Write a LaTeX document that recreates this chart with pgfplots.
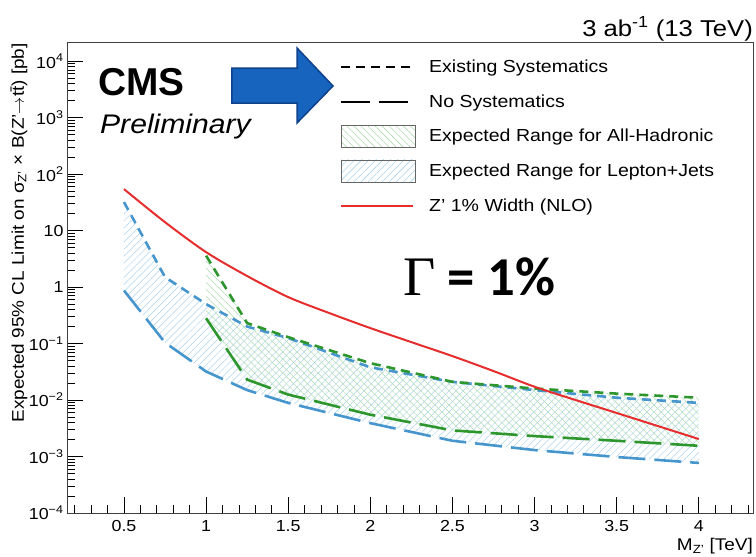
\documentclass[border=0pt]{standalone}
\usepackage{fontspec}
\setmainfont{Liberation Sans}[FakeStretch=1.12]
\newfontfamily\cmsfont{Liberation Sans}
\newfontfamily\gfont{Liberation Serif}
\newfontfamily\cfont{Carlito}
\usepackage{pgfplots}
\pgfplotsset{compat=1.18}
\usepgfplotslibrary{fillbetween}
\usetikzlibrary{patterns.meta}
\definecolor{cblue}{RGB}{70,150,205}
\definecolor{cgreen}{RGB}{45,150,45}
\definecolor{cred}{RGB}{230,45,45}
\definecolor{hblue}{RGB}{170,212,236}
\definecolor{hgreen}{RGB}{175,220,175}
\definecolor{afill}{RGB}{22,100,190}
\definecolor{adraw}{RGB}{15,65,140}
\begin{document}
\begin{tikzpicture}
\begin{axis}[
  scale only axis, width=686bp, height=470bp,
  ymode=log, xmin=0.153, xmax=4.33, ymin=1e-4, ymax=2.1e4,
  axis line style={black!75, line width=1bp},
  tick align=inside, xtick pos=bottom, ytick pos=left,
  xtick={0.5,1,1.5,2,2.5,3,3.5,4},
  xticklabels={0.5,1,1.5,2,2.5,3,3.5,4},
  minor xtick={0.2,0.3,...,4.3},
  ytick={1e-4,1e-3,1e-2,1e-1,1,10,100,1000,10000},
  yticklabels={10\textsuperscript{−4},10\textsuperscript{−3},10\textsuperscript{−2},10\textsuperscript{−1},1,10,10\textsuperscript{2},10\textsuperscript{3},10\textsuperscript{4}},
  major tick length=16bp, minor tick length=8bp,
  tick style={black, line width=0.8bp},
  ticklabel style={font=\fontsize{16}{16}\selectfont},
  xticklabel style={yshift=-4bp},
  clip=false,
  legend cell align=left,
  legend style={at={(axis description cs:0.3994,0.966)}, anchor=north west,
    draw=none, fill=none, inner sep=0pt, row sep=18.6bp, column sep=14bp,
    font=\fontsize{17.5}{18}\selectfont, cells={anchor=west}, nodes={inner sep=0pt}},
]
\addlegendimage{legend image code/.code={\path[draw=none, fill=none, use as bounding box] (0bp,-8bp) rectangle (74bp,8bp); \draw[black, line width=2bp, dash pattern=on 9bp off 6bp] (0bp,0bp) -- (72bp,0bp);}}
\addlegendentry{Existing Systematics}
\addlegendimage{legend image code/.code={\path[draw=none, fill=none, use as bounding box] (0bp,-8bp) rectangle (74bp,8bp); \draw[black, line width=2bp, dash pattern=on 29bp off 9bp] (0bp,0bp) -- (72bp,0bp);}}
\addlegendentry{No Systematics}
\addlegendimage{legend image code/.code={\path[draw=none, fill=none, use as bounding box] (0bp,-8bp) rectangle (74bp,8bp); \draw[draw=black!60, line width=0.8bp, pattern={Lines[angle=-45,distance=5bp,line width=0.6bp]}, pattern color=hgreen] (0bp,-11bp) rectangle (74bp,11bp);}}
\addlegendentry{Expected Range for All-Hadronic}
\addlegendimage{legend image code/.code={\path[draw=none, fill=none, use as bounding box] (0bp,-8bp) rectangle (74bp,8bp); \draw[draw=black!60, line width=0.8bp, pattern={Lines[angle=45,distance=5bp,line width=0.6bp]}, pattern color=hblue] (0bp,-11bp) rectangle (74bp,11bp);}}
\addlegendentry{Expected Range for Lepton+Jets}
\addlegendimage{legend image code/.code={\path[draw=none, fill=none, use as bounding box] (0bp,-8bp) rectangle (74bp,8bp); \draw[cred, line width=2bp] (0bp,0bp) -- (72bp,0bp);}}
\addlegendentry{Z' 1\% Width (NLO)}

% Lepton+Jets, existing systematics
\addplot[forget plot, name path=bs, cblue, line width=2.6bp, dash pattern=on 9bp off 6bp] coordinates {
(0.5,32) (0.75,1.5) (1,0.5) (1.25,0.2) (1.5,0.125) (2,0.038) (2.5,0.021) (3,0.015) (3.5,0.011) (4,0.0089)};
% Lepton+Jets, no systematics
\addplot[forget plot, name path=bl, cblue, line width=2.6bp, dash pattern=on 27bp off 9bp] coordinates {
(0.5,0.87) (0.75,0.104) (1,0.032) (1.25,0.015) (1.5,0.0089) (2,0.0039) (2.5,0.0019) (3,0.0013) (3.5,0.00098) (4,0.00077)};
% All-hadronic, existing systematics
\addplot[forget plot, name path=gs, cgreen, line width=2.6bp, dash pattern=on 9bp off 6bp] coordinates {
(1,3.6) (1.25,0.23) (1.5,0.13) (2,0.045) (2.5,0.021) (3,0.016) (3.5,0.013) (4,0.011)};
% All-hadronic, no systematics
\addplot[forget plot, name path=gl, cgreen, line width=2.6bp, dash pattern=on 27bp off 9bp] coordinates {
(1,0.28) (1.25,0.023) (1.5,0.0125) (2,0.0055) (2.5,0.0029) (3,0.0023) (3.5,0.0019) (4,0.00155)};

\addplot[forget plot, draw=none, pattern={Lines[angle=45,distance=5bp,line width=0.5bp]}, pattern color=hblue] fill between[of=bs and bl];
\addplot[forget plot, draw=none, pattern={Lines[angle=-45,distance=5bp,line width=0.5bp]}, pattern color=hgreen] fill between[of=gs and gl];

% Z' 1% width (NLO)
\addplot[forget plot, cred, line width=2bp, smooth, tension=0.5] coordinates {
(0.5,54.3) (0.75,14.1) (1,4.16) (1.25,1.57) (1.5,0.665) (1.75,0.347) (2,0.188) (2.25,0.106) (2.5,0.060) (2.75,0.0326) (3,0.0172) (3.25,0.0100) (3.5,0.0059) (3.75,0.00347) (4,0.00204)};

\node[anchor=base west, inner sep=0pt, font=\cmsfont\bfseries\fontsize{39}{39}\selectfont] at (axis description cs:0.0452,0.889) {CMS};
\node[anchor=base west, inner sep=0pt, font=\itshape\fontsize{27}{27}\selectfont] at (axis description cs:0.048,0.8085) {Preliminary};
\node[anchor=base east, inner sep=0pt, font=\fontsize{23}{23}\selectfont] at (axis description cs:1,1.0128) {3 ab\textsuperscript{-1} (13 TeV)};
\node[anchor=base east, inner sep=0pt, font=\fontsize{17}{17}\selectfont] at (axis description cs:1,-0.0806) {M\textsubscript{Z'} [TeV]};
\node[rotate=90, anchor=east, inner sep=0pt, font=\fontsize{17}{17}\selectfont] at (axis description cs:-0.070,1.0) {Expected 95\% CL Limit on σ\textsubscript{Z'} × B(Z'$\rightarrow$t\={t}) [pb]};
\node[anchor=base west, inner sep=0pt] at (axis description cs:0.490,0.4638) {\gfont\fontsize{56}{56}\selectfont Γ\cfont\bfseries\fontsize{55}{55}\selectfont\ = 1\%};
\draw[fill=afill, draw=adraw, line width=1.5bp] (axis description cs:0.2405,0.9468) -- (axis description cs:0.3353,0.9468) -- (axis description cs:0.3353,0.9894) -- (axis description cs:0.3878,0.9085) -- (axis description cs:0.3353,0.8298) -- (axis description cs:0.3353,0.8723) -- (axis description cs:0.2405,0.8723) -- cycle;
\coordinate (SW) at (rel axis cs:0,0);
\coordinate (NE) at (rel axis cs:1,1);
\end{axis}
\pgfresetboundingbox
\path[use as bounding box] ([xshift=-67bp,yshift=-44bp]SW) rectangle ([xshift=3bp,yshift=43bp]NE);
\end{tikzpicture}
\end{document}
